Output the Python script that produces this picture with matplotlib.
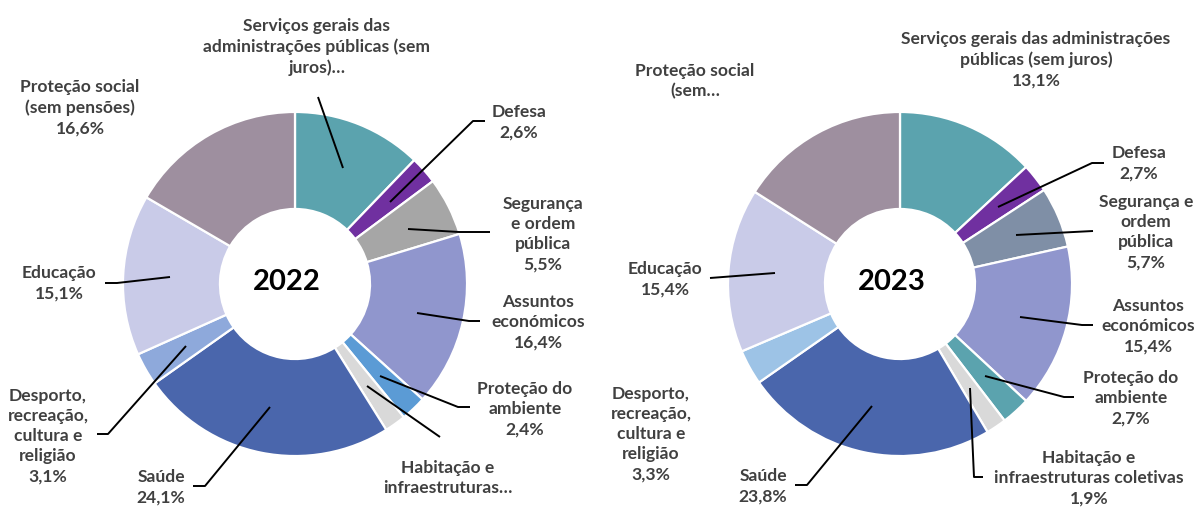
import matplotlib.pyplot as plt

# Despesa por função - 2022 e 2023
funcoes = ['Serviços gerais', 'Defesa', 'Segurança e ordem pública', 'Assuntos económicos',
           'Proteção do ambiente', 'Habitação e infraestruturas coletivas', 'Saúde',
           'Desporto, recreação, cultura e religião', 'Educação', 'Proteção social (sem pensões)']
valores_2022 = [12.2, 2.6, 5.5, 16.4, 2.4, 2.0, 24.1, 3.1, 15.1, 16.6]
valores_2023 = [13.1, 2.7, 5.7, 15.4, 2.7, 1.9, 23.8, 3.3, 15.4, 16.0]

# texto dos rotulos (percentagem escondida onde o original a esconde)
rotulos_2022 = ['Serviços gerais das\nadministrações públicas (sem\njuros)…', 'Defesa',
                'Segurança\ne ordem\npública', 'Assuntos\neconómicos', 'Proteção do\nambiente',
                'Habitação e\ninfraestruturas…', 'Saúde', 'Desporto,\nrecreação,\ncultura e\nreligião',
                'Educação', 'Proteção social\n(sem pensões)']
mostra_pct_2022 = [False, True, True, True, True, False, True, True, True, True]
rotulos_2023 = ['Serviços gerais das administrações\npúblicas (sem juros)', 'Defesa',
                'Segurança e\nordem\npública', 'Assuntos\neconómicos', 'Proteção do\nambiente',
                'Habitação e\ninfraestruturas coletivas', 'Saúde',
                'Desporto,\nrecreação,\ncultura e\nreligião', 'Educação', 'Proteção social\n(sem…']
mostra_pct_2023 = [True, True, True, True, True, True, True, True, True, False]

cores_2022 = ['#5BA3AE', '#7030A0', '#A6A6A6', '#9096CD', '#5B9BD5', '#D9D9D9',
              '#4A66AC', '#8EA9DB', '#C9CBE8', '#9E8F9F']
cores_2023 = ['#5BA3AE', '#7030A0', '#7F8FA6', '#9096CD', '#5BA3AE', '#D9D9D9',
              '#4A66AC', '#9DC3E6', '#C9CBE8', '#9E8F9F']

W, H = 1195, 507
fig = plt.figure(figsize=(W / 100, H / 100), dpi=100)
ax = fig.add_axes([0, 0, 1, 1])

txt = dict(family='Lato', weight='bold', color='#404040', fontsize=12.6,
           ha='center', va='center', linespacing=1.32)

# posicoes dos rotulos (pixels da imagem, y a contar de cima) e linhas de chamada
pos_2022 = [(317, 47), (519, 122), (543, 234), (538, 322), (525, 409), (448, 478),
            (161, 487), (48, 436), (59, 283), (80, 108)]
linhas_2022 = [[(318, 97), (343, 168)],
               [(485, 121), (473, 121), (390, 202)],
               [(490, 232), (459, 232), (408, 229)],
               [(480, 321), (469, 321), (417, 313)],
               [(470, 407), (458, 407), (380, 376)],
               [(440, 437), (367, 386)],
               [(193, 486), (205, 486), (270, 407)],
               [(97, 434), (108, 434), (186, 346)],
               [(105, 283), (117, 283), (170, 277)],
               None]
pos_2023 = [(1036, 60), (1139, 163), (1146, 232), (1148, 326), (1131, 398), (1089, 478),
            (763, 486), (651, 434), (665, 279), (695, 81)]
linhas_2023 = [None,
               [(1104, 163), (1092, 163), (998, 207)],
               [(1093, 231), (1016, 235)],
               [(1093, 325), (1082, 325), (1020, 317)],
               [(1074, 397), (1064, 397), (985, 376)],
               [(983, 477), (974, 477), (970, 388)],
               [(795, 485), (807, 485), (872, 406)],
               None,
               [(710, 278), (775, 273)],
               None]


def donut(valores, cores, centro, ano, rotulos, mostra, posicoes, linhas):
    cx, cy = centro
    ax.pie(valores, colors=cores, startangle=90, counterclock=False,
           center=(cx, H - cy), radius=172, explode=[0.03] * len(valores),
           wedgeprops=dict(width=97, edgecolor='white', linewidth=1.6))
    ax.text(cx - 8, H - cy + 2, ano, family='Lato', weight='bold', fontsize=21,
            color='black', ha='center', va='center')
    for v, r, m, p, l in zip(valores, rotulos, mostra, posicoes, linhas):
        s = r + ('\n' + f'{v:.1f}'.replace('.', ',') + '%' if m else '')
        ax.text(p[0], H - p[1], s, **txt)
        if l:
            ax.plot([q[0] for q in l], [H - q[1] for q in l], color='black', lw=1.4,
                    solid_capstyle='butt')


donut(valores_2022, cores_2022, (295, 284), '2022', rotulos_2022, mostra_pct_2022,
      pos_2022, linhas_2022)
donut(valores_2023, cores_2023, (900, 284), '2023', rotulos_2023, mostra_pct_2023,
      pos_2023, linhas_2023)

ax.set_xlim(0, W)
ax.set_ylim(0, H)
ax.set_aspect('equal')
ax.axis('off')

fig.savefig('out.png', dpi=100, facecolor='white')
